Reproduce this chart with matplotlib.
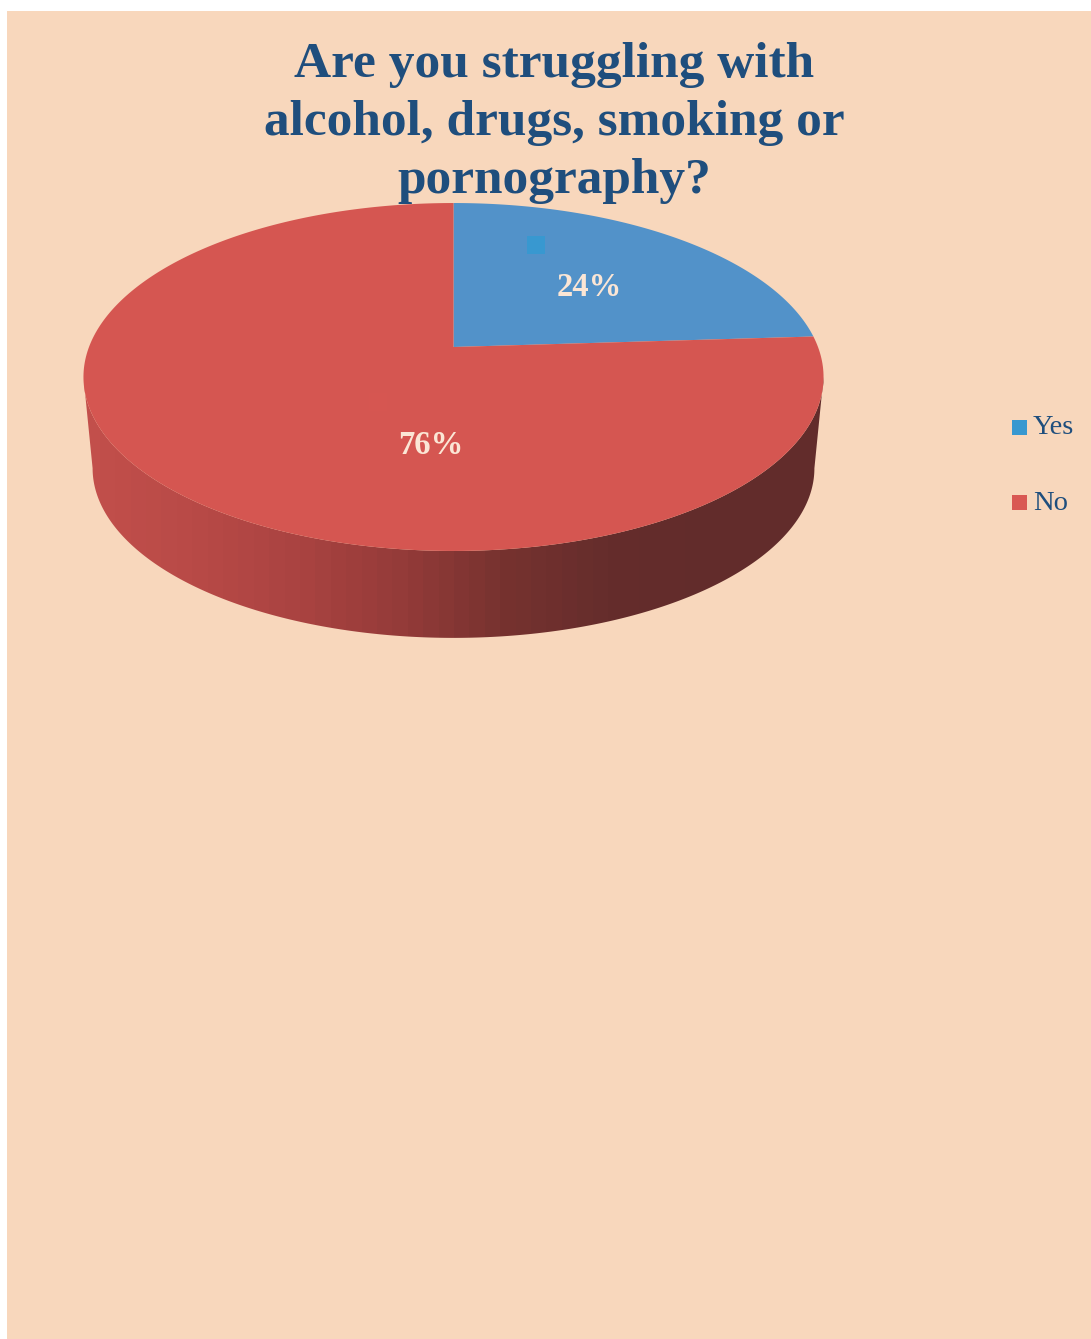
import numpy as np
import matplotlib
matplotlib.use('Agg')
import matplotlib.pyplot as plt
from matplotlib.colors import LinearSegmentedColormap
from matplotlib.patches import Polygon, Rectangle

# chart values
categories = ['Yes', 'No']
shares = [24, 76]
title_lines = ['Are you struggling with', 'alcohol, drugs, smoking or', 'pornography?']

BG = '#f8d7bc'
INK = '#1f4e7d'
LABEL = '#fbe6d5'
TILT = 0.1724
slice_colors = ['#5292c9', '#d55651']
legend_colors = ['#3898d0', '#d95853']
wall_stops = ['#c24f4b', '#b84a47', '#aa4341', '#943b39', '#76322f', '#652d2c', '#622c2b', '#622c2b']


def project(theta, level=0):
    """Clockwise angle from the back of the pie to pixel position"""
    X, Y = np.sin(theta), np.cos(theta)
    w = 1 + TILT * Y
    if level == 0:
        return 453.5 + 364.5 * X / w, 347 - 168.8 * Y / w
    return 453.5 + 355.5 * X / w, 439 - 164.6 * Y / w


fig = plt.figure(figsize=(10.91, 13.39), dpi=100, facecolor='white')
ax = fig.add_axes([0, 0, 1, 1])

ax.add_patch(Rectangle((7, 11), 1084, 1328, facecolor=BG, edgecolor='none', zorder=0))

# side wall, shaded left to right and clipped to the rim outline
edge = np.arccos(-TILT)
t = np.linspace(edge, 2 * np.pi - edge, 300)
top_x, top_y = project(t)
low_x, low_y = project(t, 1)
wall = Polygon(np.r_[np.c_[top_x, top_y], np.c_[low_x, low_y][::-1]], closed=True,
               facecolor='none', edgecolor='none', transform=ax.transData)
ax.add_patch(wall)
cmap = LinearSegmentedColormap.from_list('wall', wall_stops, N=48)
img = ax.imshow(np.linspace(0, 1, 740)[None, :], cmap=cmap, extent=(84, 824, 640, 370),
                aspect='auto', zorder=1, interpolation='nearest')
img.set_clip_path(wall)

ax.set_xlim(0, 1091)
ax.set_ylim(1339, 0)
ax.axis('off')

# top face
start = 0
for share, color in zip(shares, slice_colors):
    stop = start + share / sum(shares) * 2 * np.pi
    x, y = project(np.linspace(start, stop, 300))
    ax.add_patch(Polygon(np.r_[[[453.5, 347]], np.c_[x, y]], closed=True,
                         facecolor=color, edgecolor='none', zorder=2))
    start = stop

for i, line in enumerate(title_lines):
    ax.text(554, 65 + i * 58, line, ha='center', va='center', color=INK, fontsize=37,
            family='Liberation Serif', fontweight='bold', zorder=3)

ax.text(589, 288, '24%', ha='center', va='center', color=LABEL, fontsize=23.5,
        family='Liberation Serif', fontweight='bold', zorder=4)
ax.text(431, 445, '76%', ha='center', va='center', color=LABEL, fontsize=23.5,
        family='Liberation Serif', fontweight='bold', zorder=4)

# the small key squares left behind on the slices
ax.add_patch(Rectangle((527, 236), 18, 18, facecolor=legend_colors[0], edgecolor='none', zorder=3))
ax.add_patch(Rectangle((369, 393), 18, 18, facecolor=legend_colors[1], alpha=0.3, edgecolor='none', zorder=3))

for name, color, yc in zip(categories, legend_colors, [427, 502]):
    ax.add_patch(Rectangle((1012, yc - 7.5), 15, 15, facecolor=color, edgecolor='none', zorder=3))
    ax.text(1033, yc + 1, name, ha='left', va='center', color=INK, fontsize=20.5,
            family='Liberation Serif', zorder=3)

fig.savefig('out.png', dpi=100, facecolor='white')
